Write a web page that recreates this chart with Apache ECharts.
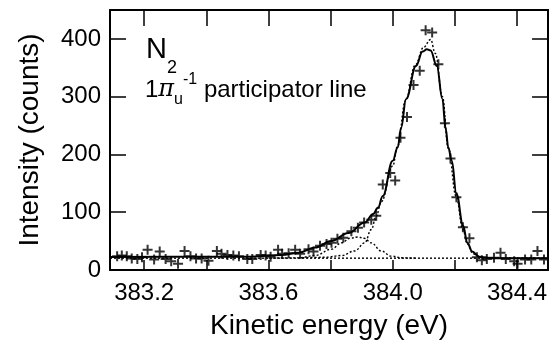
<!DOCTYPE html>
<html>
<head>
<meta charset="utf-8">
<script src="https://cdn.jsdelivr.net/npm/echarts@6/dist/echarts.min.js"></script>
<style>
  html, body { margin: 0; padding: 0; background: #fff; }
  #chart { width: 550px; height: 345px; }
</style>
</head>
<body>
<div id="chart"></div>
<script>
// measured counts (crosses)
const energy = [
  383.113, 383.128, 383.144, 383.160, 383.178, 383.193, 383.211, 383.232, 383.250, 383.269,
  383.287, 383.309, 383.330, 383.349, 383.367, 383.385, 383.407, 383.434, 383.449, 383.468,
  383.487, 383.505, 383.532, 383.548, 383.575, 383.591, 383.607, 383.631, 383.644, 383.665,
  383.686, 383.702, 383.729, 383.745, 383.766, 383.787, 383.803, 383.822, 383.841, 383.867,
  383.888, 383.908, 383.931, 383.947, 383.968, 383.992, 384.008, 384.025, 384.046, 384.067,
  384.087, 384.106, 384.127, 384.147, 384.168, 384.186, 384.205, 384.226, 384.247, 384.271,
  384.287, 384.303, 384.326, 384.347, 384.364, 384.391, 384.402, 384.426, 384.446, 384.466,
  384.487
];
const counts = [
  24, 25, 24, 20, 19, 22, 35, 18, 32, 19,
  15, 11, 33, 24, 20, 20, 16, 33, 28, 26,
  25, 24, 19, 19, 26, 25, 23, 35, 28, 29,
  35, 28, 36, 32, 42, 45, 47, 54, 56, 67,
  73, 82, 87, 94, 148, 168, 155, 229, 265, 320,
  345, 415, 411, 356, 254, 193, 126, 74, 55, 22,
  17, 19, 21, 30, 19, 15, 11, 18, 18, 33,
  18
];

// fitted curve (solid)
const fitE = [383.09, 383.378, 383.538, 383.643, 383.697, 383.75, 383.802, 383.857, 383.91, 383.937,
  383.953, 383.968, 384.0, 384.016, 384.027, 384.043, 384.075, 384.096, 384.11, 384.122,
  384.142, 384.16, 384.17, 384.179, 384.19, 384.205, 384.227, 384.24, 384.256, 384.278,
  384.32, 384.496];
const fitC = [22.5, 23, 23, 26, 30, 39, 50, 64, 82, 97,
  108, 128, 189, 212, 246, 296, 353, 378, 382, 380,
  353, 296, 246, 212, 189, 132, 76, 47, 32, 23,
  20.5, 20.5];

// main component (dotted)
const mainE = [383.697, 383.782, 383.835, 383.878, 383.91, 383.931, 383.947, 383.963, 384.0, 384.016,
  384.041, 384.073, 384.099, 384.122, 384.137, 384.16, 384.179, 384.204, 384.226, 384.24,
  384.259, 384.287, 384.335, 384.496];
const mainC = [21, 22, 25, 33, 47, 70, 93, 118, 180, 215,
  293, 355, 385, 399, 375, 300, 210, 128, 70, 45,
  28, 22, 21, 20.5];

// small component (dotted)
const smallE = [383.601, 383.697, 383.75, 383.803, 383.835, 383.863, 383.888, 383.908, 383.931, 383.963,
  383.995, 384.032, 384.08];
const smallC = [20.5, 21, 25, 36, 47, 55, 57, 55, 47, 33, 24, 21, 20.5];

// background (dotted)
const baseE = [383.09, 384.5];
const baseC = [20.5, 20.5];

const xTicks = [383.2, 383.4, 383.6, 383.8, 384.0, 384.2, 384.4];
const xLabels = [383.2, 383.6, 384.0, 384.4];
const yTicks = [0, 100, 200, 300, 400];

const font = "'Liberation Sans', Arial, Helvetica, sans-serif";
const zip = (a, b) => a.map((v, i) => [v, b[i]]);
const plus = 'path://M4,0h2v4h4v2h-4v4h-2v-4h-4v-2h4z';
const dotted = { color: '#000', width: 1.4, type: [2, 2] };

const chart = echarts.init(document.getElementById('chart'));
const xBase = {
  type: 'value', min: 383.09, max: 384.5,
  axisLine: { show: true, onZero: false, lineStyle: { color: '#000', width: 2 } },
  splitLine: { show: false }
};
const yBase = {
  type: 'value', min: 0, max: 450,
  axisLine: { show: true, onZero: false, lineStyle: { color: '#000', width: 2 } },
  splitLine: { show: false }
};
chart.setOption({
  animation: false,
  grid: { left: 110, right: -2, top: 10, bottom: 70 },
  xAxis: [
    Object.assign({}, xBase, {
      position: 'bottom',
      name: 'Kinetic energy (eV)', nameLocation: 'middle', nameGap: 42,
      nameTextStyle: { color: '#000', fontSize: 28, fontFamily: font },
      axisTick: { inside: true, length: 10, customValues: xTicks, lineStyle: { color: '#000', width: 1.5 } },
      axisLabel: { customValues: xLabels, margin: 11, color: '#000', fontSize: 24, fontFamily: font,
        formatter: v => v.toFixed(1) }
    }),
    Object.assign({}, xBase, {
      position: 'top',
      axisTick: { inside: true, length: 16, customValues: xTicks, lineStyle: { color: '#000', width: 1.5 } },
      axisLabel: { show: false }
    })
  ],
  yAxis: [
    Object.assign({}, yBase, {
      position: 'left',
      name: 'Intensity (counts)', nameLocation: 'middle', nameGap: 66,
      nameTextStyle: { color: '#000', fontSize: 28, fontFamily: font },
      axisTick: { inside: true, length: 16, customValues: yTicks, lineStyle: { color: '#000', width: 1.5 } },
      axisLabel: { customValues: yTicks, margin: 9, color: '#000', fontSize: 24, fontFamily: font }
    }),
    Object.assign({}, yBase, {
      position: 'right',
      axisTick: { inside: true, length: 16, customValues: yTicks, lineStyle: { color: '#000', width: 1.5 } },
      axisLabel: { show: false }
    })
  ],
  graphic: [
    {
      type: 'text', left: 146, top: 35,
      style: {
        text: '{n|N}{s|2}',
        rich: {
          n: { fontSize: 29, fontFamily: font, fill: '#000', verticalAlign: 'top', lineHeight: 30 },
          s: { fontSize: 18, fontFamily: font, fill: '#000', verticalAlign: 'bottom', lineHeight: 42 }
        }
      }
    },
    {
      type: 'text', left: 145, top: 72,
      style: {
        text: '{m|1}{p|\u03c0}{s|u}{t|-1}{m| participator line}',
        rich: {
          m: { fontSize: 24, fontFamily: font, fill: '#000', verticalAlign: 'middle', lineHeight: 30 },
          p: { fontSize: 24, fontFamily: "'DejaVu Serif', serif", fontStyle: 'italic', fill: '#000', verticalAlign: 'middle', lineHeight: 30 },
          s: { fontSize: 16, fontFamily: font, fill: '#000', verticalAlign: 'bottom', lineHeight: 36 },
          t: { fontSize: 16, fontFamily: font, fill: '#000', verticalAlign: 'top', lineHeight: 26 }
        }
      }
    }
  ],
  series: [
    { type: 'line', data: zip(baseE, baseC), showSymbol: false, lineStyle: dotted, z: 1 },
    { type: 'line', data: zip(smallE, smallC), smooth: 0.4, smoothMonotone: 'x', showSymbol: false, lineStyle: dotted, z: 1 },
    { type: 'line', data: zip(mainE, mainC), smooth: 0.4, smoothMonotone: 'x', showSymbol: false, lineStyle: dotted, z: 1 },
    { type: 'line', data: zip(fitE, fitC), smooth: 0.4, smoothMonotone: 'x', showSymbol: false,
      lineStyle: { color: '#000', width: 2 }, z: 2 },
    { type: 'scatter', data: zip(energy, counts), symbol: plus, symbolSize: 10,
      itemStyle: { color: '#000' }, z: 3 }
  ]
});
</script>
</body>
</html>
